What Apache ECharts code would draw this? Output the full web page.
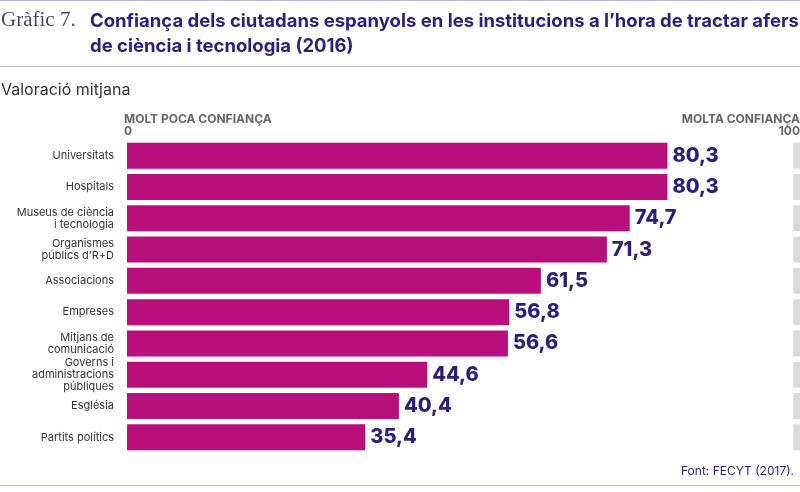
<!DOCTYPE html>
<html>
<head>
<meta charset="utf-8">
<script src="https://cdn.jsdelivr.net/npm/echarts@6/dist/echarts.min.js"></script>
<style>
html,body{margin:0;padding:0;background:#fff;}
#chart{width:800px;height:492px;}
</style>
</head>
<body>
<div id="chart"></div>
<script>
// dades
var categories = ['Universitats', 'Hospitals', 'Museus de ciència\ni tecnologia', 'Organismes\npúblics d\u2019R+D',
	'Associacions', 'Empreses', 'Mitjans de\ncomunicació', 'Governs i\nadministracions\npúbliques', 'Església', 'Partits polítics'];
var values = [80.3, 80.3, 74.7, 71.3, 61.5, 56.8, 56.6, 44.6, 40.4, 35.4];
var axisMin = 0;
var axisMax = 100;
// marca grisa al final de l'escala (99 a 100)
var endMarkStart = [99, 99, 99, 99, 99, 99, 99, 99, 99, 99];
var endMarkSize = [1, 1, 1, 1, 1, 1, 1, 1, 1, 1];

var navy = '#2b1f7a';
var magenta = '#b80f7c';
var lineColor = '#b9b3dc';
var font = 'Inter, Roboto, sans-serif';

var myChart = echarts.init(document.getElementById('chart'));
var option = {
	animation: false,
	grid: {
		left: 127,
		right: 0,
		top: 140,
		height: 313,
		containLabel: false
	},
	xAxis: {
		type: 'value',
		min: axisMin,
		max: axisMax,
		show: false
	},
	yAxis: {
		type: 'category',
		data: categories,
		inverse: true,
		axisLine: {show: false},
		axisTick: {show: false},
		axisLabel: {
			margin: 13,
			color: '#333',
			fontSize: 11,
			lineHeight: 12,
			fontFamily: font,
			align: 'right'
		}
	},
	series: [{
		type: 'bar',
		data: values,
		barCategoryGap: '17%',
		itemStyle: {color: magenta},
		label: {
			show: true,
			position: 'right',
			distance: 5,
			color: navy,
			fontSize: 20,
			fontWeight: 800,
			fontFamily: font,
			formatter: function (p) {
				return p.value.toFixed(1).replace('.', ',');
			}
		},
		z: 3
	}, {
		type: 'bar',
		stack: 'end',
		data: endMarkStart,
		barGap: '-100%',
		barCategoryGap: '17%',
		itemStyle: {color: 'rgba(0,0,0,0)'},
		silent: true,
		z: 1
	}, {
		type: 'bar',
		stack: 'end',
		data: endMarkSize,
		barCategoryGap: '17%',
		itemStyle: {color: '#d9d9d9'},
		silent: true,
		z: 1
	}],
	graphic: [
		{type: 'rect', shape: {x: 0, y: 0, width: 800, height: 1}, style: {fill: lineColor}},
		{type: 'rect', shape: {x: 0, y: 66, width: 800, height: 1}, style: {fill: lineColor}},
		{type: 'rect', shape: {x: 0, y: 485, width: 800, height: 1}, style: {fill: lineColor}},
		{type: 'text', left: 1, top: 10, style: {text: 'Gràfic 7.', fill: '#4a4a5e', font: '21px "Liberation Serif", "DejaVu Serif", serif'}},
		{type: 'text', left: 90, top: 9, style: {text: 'Confiança dels ciutadans espanyols en les institucions a l\u2019hora de tractar afers\nde ciència i tecnologia (2016)', fill: navy, font: 'bold 18.5px ' + font, lineHeight: 25}},
		{type: 'text', left: 1, top: 82, style: {text: 'Valoració mitjana', fill: '#333', font: '16px ' + font}},
		{type: 'text', left: 124, top: 113, style: {text: 'MOLT POCA CONFIANÇA\n0', fill: '#666', font: 'bold 12px ' + font, lineHeight: 12}},
		{type: 'text', right: 0, top: 113, style: {text: 'MOLTA CONFIANÇA', fill: '#666', font: 'bold 12px ' + font}},
		{type: 'text', right: 0, top: 125, style: {text: '100', fill: '#666', font: 'bold 12px ' + font}},
		{type: 'text', right: 6, top: 465, style: {text: 'Font: FECYT (2017).', fill: navy, font: '12px ' + font}}
	]
};
myChart.setOption(option);
</script>
</body>
</html>
